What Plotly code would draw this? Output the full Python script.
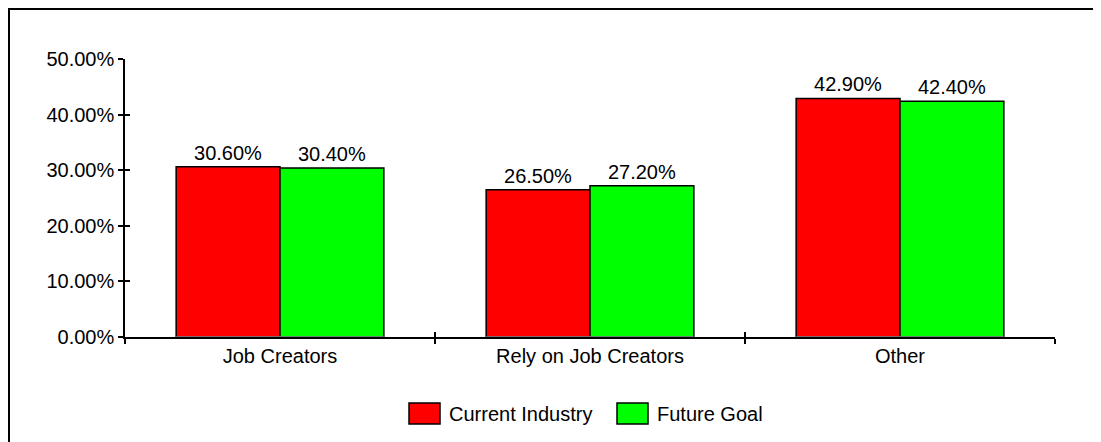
import plotly.graph_objects as go

categories = ["Job Creators", "Rely on Job Creators", "Other"]
current_industry = [30.6, 26.5, 42.9]
future_goal = [30.4, 27.2, 42.4]
series_names = ["Current Industry", "Future Goal"]
series_colors = ["#ff0000", "#00ff00"]

FONT = "Liberation Sans, Arial, sans-serif"
OFF = 8  # page body margin
W, H = 1101 - OFF, 442 - OFF
# page-pixel positions of plot area
PL, PR, PT, PB = 125, 1055, 59, 337
L, T = PL - OFF, PT - OFF
R, B = W - (PR - OFF), H - (PB - OFF)
pw, ph = PR - PL, PB - PT

def px_x(p):
    return (p - PL) / pw

def px_y(p):
    return (PB - p) / ph

fig = go.Figure()
for name, vals, col in zip(series_names, [current_industry, future_goal], series_colors):
    fig.add_trace(go.Bar(
        x=categories, y=vals, name=name,
        marker=dict(color=col, line=dict(color="black", width=1.5)),
        texttemplate="%{y:.2f}%", textposition="outside",
        textfont=dict(family=FONT, size=20, color="black"),
        cliponaxis=False, showlegend=False,
    ))

axis_common = dict(showline=True, linecolor="black", linewidth=1.5,
                   ticks="outside", ticklen=5, tickwidth=1.5, tickcolor="black",
                   showgrid=False, zeroline=False)

fig.update_layout(
    width=W, height=H,
    margin=dict(l=L, r=R, t=T, b=B, pad=0),
    paper_bgcolor="white", plot_bgcolor="white",
    barmode="group", bargap=0.33, bargroupgap=0,
    font=dict(family=FONT, size=20, color="black"),
    xaxis=dict(**axis_common, tickson="boundaries", tickfont=dict(size=20)),
    yaxis=dict(**axis_common, range=[0, 50], dtick=10, tickformat=".2f",
               ticksuffix="%", tickfont=dict(size=20)),
    xaxis2=dict(overlaying="x", matches="x", ticks="inside", ticklen=5, tickwidth=1.5,
                tickcolor="black", showticklabels=False, showline=False,
                showgrid=False, zeroline=False, tickson="boundaries", type="category"),
    yaxis2=dict(overlaying="y", matches="y", ticks="inside", ticklen=5, tickwidth=1.5,
                tickcolor="black", showticklabels=False, showline=False,
                showgrid=False, zeroline=False, dtick=10),
    showlegend=False,
)

# invisible trace to activate the overlay axes
fig.add_trace(go.Bar(x=categories, y=[0, 0, 0], xaxis="x2", yaxis="y2",
                     marker=dict(color="rgba(0,0,0,0)"), hoverinfo="skip",
                     showlegend=False))

# outer border (starts at the top-left corner of the figure, runs off the window)
fig.add_shape(type="rect", xref="paper", yref="paper",
              x0=px_x(9), x1=px_x(1120), y0=px_y(470), y1=px_y(9),
              line=dict(color="black", width=2), fillcolor="rgba(0,0,0,0)", layer="below")

# custom legend
legend_items = [(409, 447), (617, 655)]
for (bx, tx), name, col in zip(legend_items, series_names, series_colors):
    fig.add_shape(type="rect", xref="paper", yref="paper",
                  x0=px_x(bx), x1=px_x(bx + 31), y0=px_y(424), y1=px_y(403),
                  line=dict(color="black", width=1.5), fillcolor=col)
    fig.add_annotation(x=px_x(tx), y=px_y(414), xref="paper", yref="paper",
                       text=name, showarrow=False, xanchor="left", yanchor="middle",
                       font=dict(family=FONT, size=20, color="black"))

fig.write_html("out.html")
